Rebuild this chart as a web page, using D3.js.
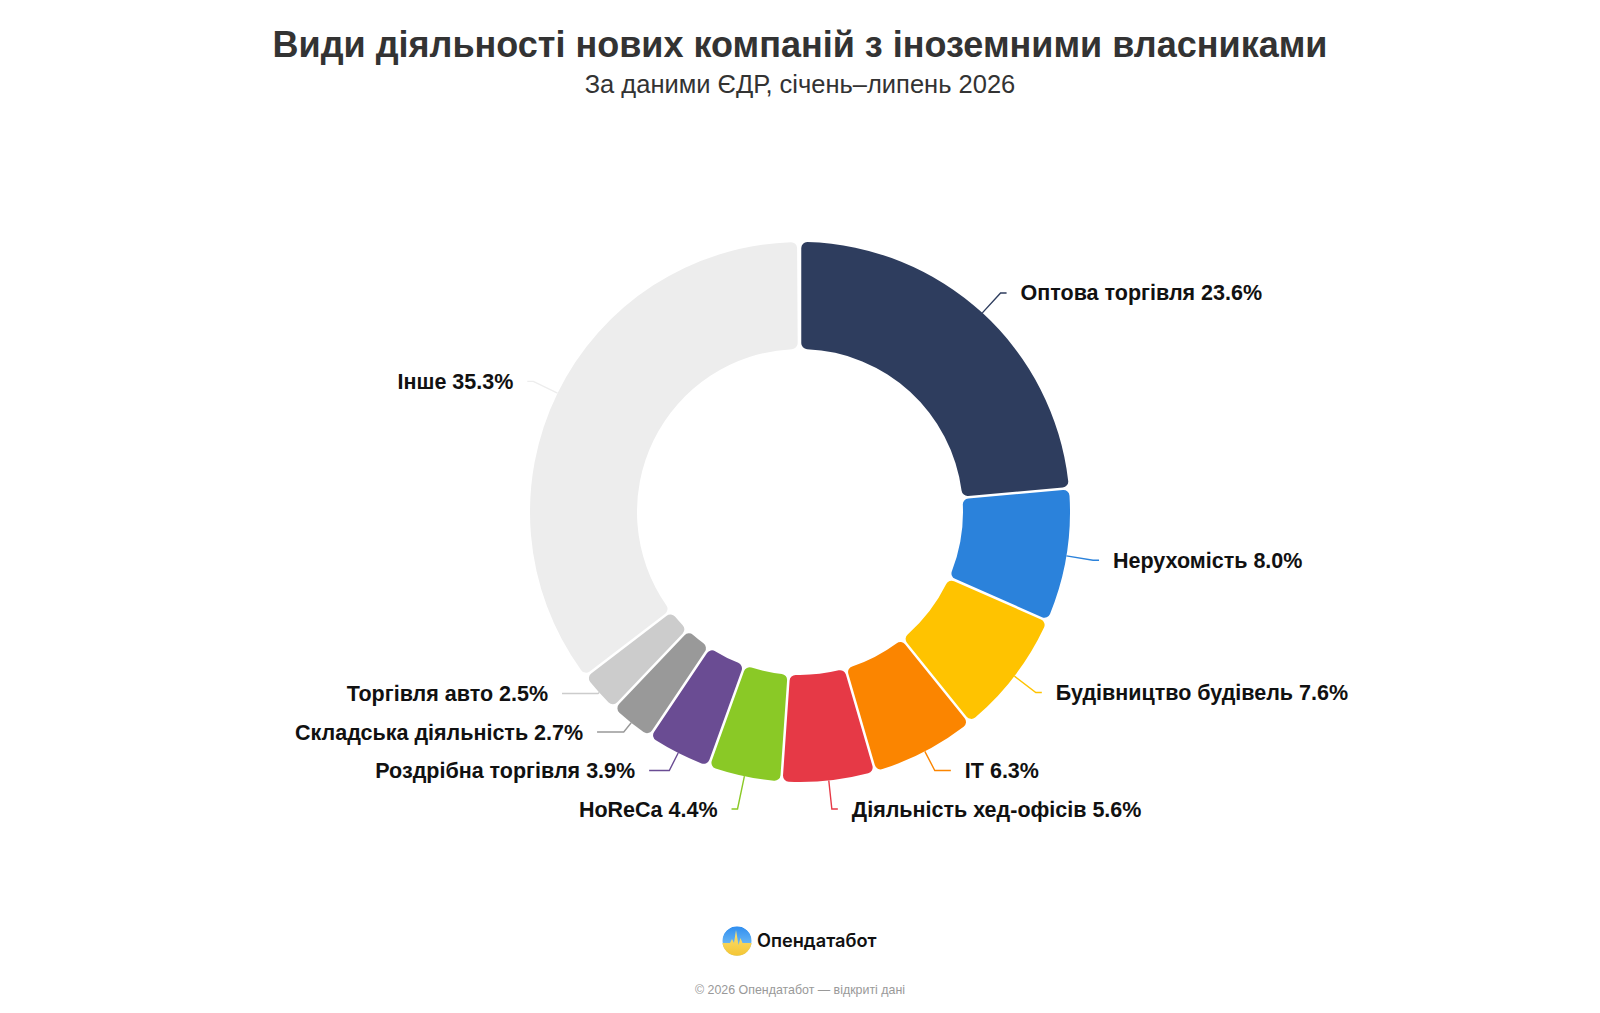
<!DOCTYPE html>
<html lang="uk">
<head>
<meta charset="utf-8">
<title>Види діяльності нових компаній з іноземними власниками</title>
<script src="https://cdn.jsdelivr.net/npm/d3@7"></script>
<style>
    html, body { margin: 0; padding: 0; background: #fff; }
    #chart { width: 1600px; height: 1013px; }
    text { font-family: "Liberation Sans", Helvetica, Arial, sans-serif; }
</style>
</head>
<body>
<div id="chart"></div>
<script>
// дані (ЄДР, січень–липень 2026)
var categories = ["Оптова торгівля", "Нерухомість", "Будівництво будівель", "IT",
    "Діяльність хед-офісів", "HoReCa", "Роздрібна торгівля", "Складська діяльність",
    "Торгівля авто", "Інше"];
var shares = [23.6, 8.0, 7.6, 6.3, 5.6, 4.4, 3.9, 2.7, 2.5, 35.3];
var colors = ["#2e3d5e", "#2b82db", "#ffc300", "#fb8500", "#e63946", "#8ac926",
    "#6a4c93", "#999999", "#cccccc", "#ededed"];

var TITLE = "Види діяльності нових компаній з іноземними власниками",
    SUBTITLE = "За даними ЄДР, січень–липень 2026",
    BRAND = "Опендатабот",
    FOOTER = "© 2026 Опендатабот — відкриті дані";

function donut_chart(_containerId) {
    var WIDTH = 1600, HEIGHT = 1013,
        CX = 800, CY = 512,
        OUTER = 270, INNER = 163,
        LABEL_R = 297, LINE_END_R = 299.3,
        LABEL_GAP = 38.5;

    var svg = d3.select(_containerId).append("svg")
        .attr("width", WIDTH)
        .attr("height", HEIGHT);

    svg.append("rect").attr("width", WIDTH).attr("height", HEIGHT).attr("fill", "#fff");

    svg.append("text")
        .attr("x", WIDTH / 2).attr("y", 57)
        .attr("text-anchor", "middle")
        .style("font-size", "36px").style("font-weight", "bold")
        .attr("fill", "#333")
        .text(TITLE);

    svg.append("text")
        .attr("x", WIDTH / 2).attr("y", 93)
        .attr("text-anchor", "middle")
        .style("font-size", "25.5px")
        .attr("fill", "#333")
        .text(SUBTITLE);

    var data = categories.map(function (c, i) {
        return {name: c, value: shares[i], color: colors[i]};
    });

    // кути рахуємо від 100%, тому залишок 0.1% лишається щілиною вгорі
    var pie = d3.pie()
        .sort(null)
        .value(function (d) { return d.value; })
        .startAngle(0)
        .endAngle(2 * Math.PI * d3.sum(shares) / 100);

    var arc = d3.arc()
        .innerRadius(INNER)
        .outerRadius(OUTER)
        .cornerRadius(6)
        .padAngle(0.008);

    var arcs = pie(data);

    var g = svg.append("g").attr("transform", "translate(" + CX + "," + CY + ")");

    g.selectAll("path.slice")
        .data(arcs)
        .enter().append("path")
        .attr("class", "slice")
        .attr("d", arc)
        .attr("fill", function (d) { return d.data.color; });

    // позиції підписів
    var labels = arcs.map(function (d) {
        var a = (d.startAngle + d.endAngle) / 2;
        return {
            d: d,
            a: a,
            side: Math.sin(a) >= 0 ? 1 : -1,
            y: -LABEL_R * Math.cos(a)
        };
    });

    [1, -1].forEach(function (side) {
        var list = labels.filter(function (l) { return l.side === side; })
            .sort(function (p, q) { return p.y - q.y; });
        var i, k;
        for (k = 0; k < 300; k++) {
            var moved = false;
            for (i = 0; i < list.length - 1; i++) {
                var diff = list[i + 1].y - list[i].y;
                if (diff < LABEL_GAP - 0.01) {
                    var shift = (LABEL_GAP - diff) / 2;
                    list[i].y -= shift;
                    list[i + 1].y += shift;
                    moved = true;
                }
            }
            if (!moved) break;
        }
        // не виходимо за межі кола підписів
        var n = list.length;
        if (n && list[n - 1].y > LABEL_R) {
            list[n - 1].y = LABEL_R;
            for (i = n - 2; i >= 0; i--) list[i].y = Math.min(list[i].y, list[i + 1].y - LABEL_GAP);
        }
        if (n && list[0].y < -LABEL_R) {
            list[0].y = -LABEL_R;
            for (i = 1; i < n; i++) list[i].y = Math.max(list[i].y, list[i - 1].y + LABEL_GAP);
        }
    });

    labels.forEach(function (l) {
        var sa = Math.sin(l.a), ca = Math.cos(l.a);
        var sx = OUTER * sa, sy = -OUTER * ca;
        var t = Math.abs(ca) > 0.05 ? (l.y - sy) / (-ca) : 0;
        t = Math.max(0, Math.min(t, 45));
        var ex = sx + t * sa, ey = l.y;
        var endX = l.side * Math.sqrt(Math.max(0, LINE_END_R * LINE_END_R - l.y * l.y));
        if (l.side * (endX - ex) < 6) endX = ex + l.side * 6;
        l.points = [[sx, sy], [ex, ey], [endX, ey]];
        l.tx = endX + l.side * 14;
    });

    var line = d3.line();

    g.selectAll("path.leader")
        .data(labels)
        .enter().append("path")
        .attr("class", "leader")
        .attr("d", function (l) { return line(l.points); })
        .attr("fill", "none")
        .attr("stroke", function (l) { return l.d.data.color; })
        .attr("stroke-width", 1.4);

    g.selectAll("text.label")
        .data(labels)
        .enter().append("text")
        .attr("class", "label")
        .attr("x", function (l) { return l.tx; })
        .attr("y", function (l) { return l.y; })
        .attr("dy", "0.35em")
        .attr("text-anchor", function (l) { return l.side > 0 ? "start" : "end"; })
        .style("font-size", "21.5px").style("font-weight", "bold")
        .attr("fill", "#111")
        .text(function (l) { return l.d.data.name + " " + l.d.data.value.toFixed(1) + "%"; });

    // логотип
    var defs = svg.append("defs");
    var sky = defs.append("linearGradient").attr("id", "sky")
        .attr("x1", 0).attr("y1", 0).attr("x2", 0).attr("y2", 1);
    sky.append("stop").attr("offset", "0%").attr("stop-color", "#2f8ef0");
    sky.append("stop").attr("offset", "100%").attr("stop-color", "#8fd0f6");
    var sun = defs.append("linearGradient").attr("id", "sun")
        .attr("x1", 0).attr("y1", 0).attr("x2", 0).attr("y2", 1);
    sun.append("stop").attr("offset", "0%").attr("stop-color", "#fbe27a");
    sun.append("stop").attr("offset", "100%").attr("stop-color", "#f4c430");
    defs.append("clipPath").attr("id", "logo-clip")
        .append("circle").attr("r", 14.7);

    var logo = svg.append("g").attr("transform", "translate(737,941)");
    var inner = logo.append("g").attr("clip-path", "url(#logo-clip)");
    inner.append("circle").attr("r", 14.7).attr("fill", "url(#sky)");
    inner.append("path")
        .attr("d", "M-16,2 L-7,2 L-5,-2 L-3,2 L-1,-11 L1.5,4 L3.5,-3 L5.5,2 L16,2 L16,16 L-16,16 Z")
        .attr("fill", "url(#sun)");

    svg.append("text")
        .attr("x", 757).attr("y", 947)
        .style("font-family", "Inter, 'Noto Sans', sans-serif")
        .style("font-size", "18.2px").style("font-weight", 600)
        .attr("fill", "#111")
        .text(BRAND);

    svg.append("text")
        .attr("x", WIDTH / 2).attr("y", 994)
        .attr("text-anchor", "middle")
        .style("font-size", "12.4px")
        .attr("fill", "#999")
        .text(FOOTER);
}

donut_chart("#chart");
</script>
</body>
</html>
